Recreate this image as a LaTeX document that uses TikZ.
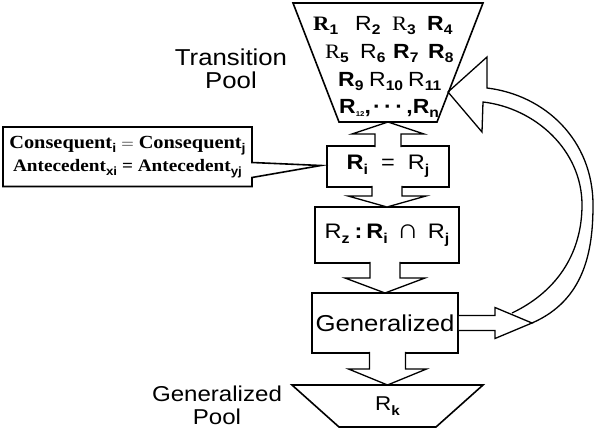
\documentclass[tikz,border=0pt]{standalone}
\usepackage{fontspec}
\setmainfont[FakeStretch=1.1]{Liberation Serif}
\newfontfamily\sansf[FakeStretch=1.12]{Liberation Sans}
\usetikzlibrary{calc}
\makeatletter
\newcommand{\sbx}[1]{\raisebox{-0.22em}{\@tempdima=0.68\dimexpr\f@size pt\relax\fontsize{\the\@tempdima}{\the\@tempdima}\selectfont\sansf\bfseries #1}}
\makeatother
% #1 shaft start, #2 tip, #3 head length (signed), #4 overlap, #5 shaft half width, #6 head half width
\newcommand{\vblock}[6]{\draw[blk] ($(#2 |- #1)+(-#5,#4)$) -- ($(#2)+(-#5,#3)$) -- ($(#2)+(-#6,#3)$) -- (#2) -- ($(#2)+(#6,#3)$) -- ($(#2)+(#5,#3)$) -- ($(#2 |- #1)+(#5,#4)$);}
% trapezium outline from a rectangular node: #1 node, #2 inset at bottom
\newcommand{\trapout}[2]{\draw[line width=1.6pt,line join=miter] (#1.north west) -- (#1.north east) -- ($(#1.south east)+(-#2,0)$) -- ($(#1.south west)+(#2,0)$) -- cycle;}
\begin{document}
\begin{tikzpicture}[x=1pt,y=-1pt,
 box/.style={draw,line width=1.6pt,inner sep=0pt,outer sep=0pt},
 blk/.style={draw,line width=1.3pt,fill=white,line join=miter},
 rr/.style={anchor=base west,inner sep=0pt,font=\fontsize{20.5}{20.5}\selectfont},
 poolnode/.style={inner sep=0pt,outer sep=0pt}]
\useasboundingbox (0,0) rectangle (594,439);

% pools
\node[poolnode,minimum width=190pt,minimum height=119pt] (pool) at (388,62.5) {};
\trapout{pool}{46}
\node[poolnode,minimum width=191pt,minimum height=42pt] (gpool) at (387.5,406) {\sansf\fontsize{20}{20}\selectfont R\sbx{k}};
\trapout{gpool}{47}

% boxes
\node[box,minimum width=122pt,minimum height=41pt] (box1) at (388,166.5) {\sansf\fontsize{21}{21}\selectfont {\bfseries R}\sbx{i}\hspace{13pt}=\hspace{13pt}R\sbx{j}};
\node[box,minimum width=144pt,minimum height=56pt] (box2) at (387,235) {\sansf\fontsize{21}{21}\selectfont R\sbx{z}\hspace{5pt}{\bfseries :}\hspace{4pt}{\bfseries R}\sbx{i}\hspace{9pt}\scalebox{1.3}{∩}\hspace{9pt}R\sbx{j}};
\node[box,minimum width=146pt,minimum height=60pt] (box3) at (385,323) {\sansf\fontsize{23}{23}\selectfont Generalized};

% block arrows
\vblock{box1.north}{pool.south}{12}{1.2}{13}{36}
\vblock{box1.south}{box2.north}{-11}{-1.2}{15}{39}
\vblock{box2.south}{box3.north}{-15}{-1.2}{15}{40}
\vblock{box3.south}{gpool.north}{-16}{-1.2}{18}{39}

% callout
\node[minimum width=249pt,minimum height=59pt,inner sep=0pt,outer sep=0pt,align=center,font=\bfseries\fontsize{18.5}{23}\selectfont] (cal) at (127.5,157) {Consequent\sbx{i} $=$ Consequent\sbx{j}\\{\fontsize{17.5}{23}\selectfont Antecedent\sbx{xi} = Antecedent\sbx{yj}}};
\coordinate (ctip) at ($(box1.west)+(-6,-1)$);
\draw[line width=1.6pt,line join=miter] ($(cal.north east)+(0,-0.5)$) -- ($(cal.north east)+(0,35)$) -- (ctip) -- ($(cal.north east)+(0,50)$) -- (cal.south east) -- (cal.south west) -- ($(cal.north west)+(0,-0.5)$) -- cycle;

% feedback arrow
\coordinate (gtip) at ($(box3.east)+(74,0)$);
\coordinate (rtip) at (448,92);
\draw[line width=1.3pt,line join=miter] (gtip) .. controls (585,300) and (593,250) .. (593,205) .. controls (593,140) and (545,95) .. (487,88) -- (487,57) -- (rtip) -- (482,132) -- (483,102) .. controls (535,108) and (582,150) .. (582,205) .. controls (582,250) and (560,290) .. (512,313);
\draw[blk] ($(box3.east)+(0.8,-7.5)$) -- ($(gtip)+(-37,-7.5)$) -- ($(gtip)+(-37,-15.5)$) -- (gtip) -- ($(gtip)+(-37,15.5)$) -- ($(gtip)+(-37,7.5)$) -- ($(box3.east)+(0.8,7.5)$);

% labels
\node[align=center,font=\sansf\fontsize{23}{23}\selectfont] (tpl) at (231,69) {Transition\\Pool};
\node[align=center,font=\sansf\fontsize{21.5}{23}\selectfont] (gpl) at (217,405) {Generalized\\Pool};

% pool contents
\node[rr] (r1) at (313,30) {\textbf{R}\sbx{1}};
\node[rr] (r2) at (355,30) {\sansf R\sbx{2}};
\node[rr] (r3) at (392,30) {R\sbx{3}};
\node[rr] (r4) at (427,30) {\sansf\bfseries R\sbx{4}};
\node[rr] (r5) at (325,58) {R\sbx{5}};
\node[rr] (r6) at (360,58) {\sansf R\sbx{6}};
\node[rr] (r7) at (393,58) {\sansf\bfseries R\sbx{7}};
\node[rr] (r8) at (428,58) {\sansf\bfseries R\sbx{8}};
\node[rr] (r9) at (338,86) {\sansf\bfseries R\sbx{9}};
\node[rr] (r10) at (369,86) {\sansf R\sbx{10}};
\node[rr] (r11) at (408,86) {\sansf R\sbx{11}};
\node[rr] (r12) at (339,113) {\sansf\bfseries R\raisebox{-0.15em}{\fontsize{7}{7}\selectfont 12},};
\node[rr] (rn) at (373,113) {\sansf\bfseries ·\,·\,·\,,R\sbx{n}};
\end{tikzpicture}
\end{document}
